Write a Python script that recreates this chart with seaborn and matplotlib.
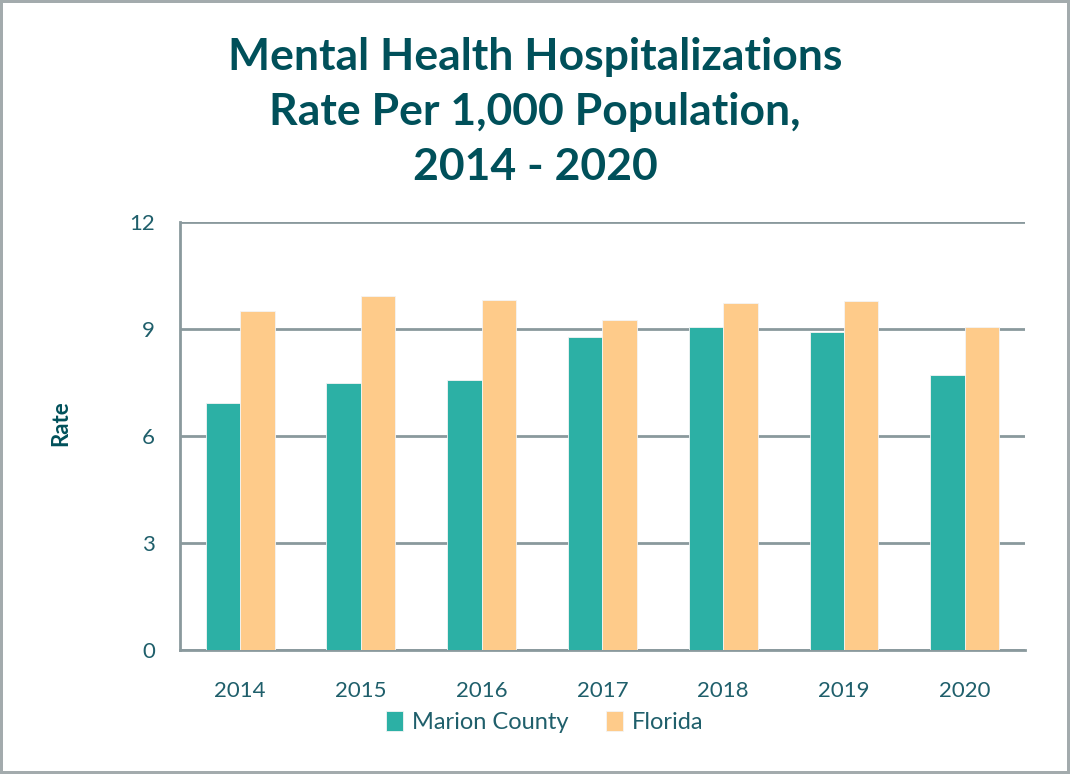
import pandas as pd
import matplotlib.pyplot as plt
import seaborn as sns

years = ["2014", "2015", "2016", "2017", "2018", "2019", "2020"]
marion = [6.93, 7.48, 7.58, 8.77, 9.05, 8.91, 7.72]
florida = [9.52, 9.92, 9.81, 9.27, 9.74, 9.80, 9.05]
series_names = ["Marion County", "Florida"]
y_ticks = [0, 3, 6, 9, 12]

title_color = "#00505a"
text_color = "#1f5f6b"
grid_color = "#8a999d"
colors = ["#2cb0a5", "#fecb8a"]


def main():
    # long form table for seaborn
    data = pd.DataFrame({
        "year": years * 2,
        "rate": marion + florida,
        "series": [series_names[0]] * len(years) + [series_names[1]] * len(years),
    })

    sns.set_style("white")
    plt.rcParams['font.family'] = ['Lato', 'DejaVu Sans']

    fig = plt.figure(figsize=(10.7, 7.74), dpi=100)
    fig.patch.set_edgecolor("#a3abad")
    fig.patch.set_linewidth(3)
    ax = fig.add_axes([0.168, 0.160, 0.790, 0.553])

    sns.barplot(data=data, x="year", y="rate", hue="series", palette=colors,
                saturation=1, width=0.57, edgecolor="#f4f4f4", linewidth=0.6,
                ax=ax, zorder=3)

    ax.set_ylim(0, 12)
    ax.set_yticks(y_ticks)
    ax.yaxis.grid(True, color=grid_color, linewidth=2, zorder=0)
    ax.set_axisbelow(True)
    for side in ["top", "right"]:
        ax.spines[side].set_visible(False)
    for side in ["left", "bottom"]:
        ax.spines[side].set_color(grid_color)
        ax.spines[side].set_linewidth(2)

    ax.tick_params(axis="both", length=0, labelsize=16, labelcolor=text_color)
    ax.tick_params(axis="x", pad=22)
    ax.tick_params(axis="y", pad=18)
    ax.set_xlabel("")
    ax.set_ylabel("Rate", fontsize=16, fontweight="bold", color=title_color)
    ax.yaxis.set_label_coords(-0.128, 0.53)

    # legend under the x labels, a bit left of centre like the original
    ax.legend(loc="upper center", bbox_to_anchor=(0.432, -0.093), ncol=2, frameon=False,
              fontsize=17, labelcolor=text_color, handlelength=0.7, handleheight=0.9,
              handletextpad=0.4, columnspacing=1.6)

    fig.text(0.5, 0.952, "Mental Health Hospitalizations\nRate Per 1,000 Population,\n2014 - 2020",
             ha="center", va="top", fontsize=32, fontweight="bold", color=title_color,
             linespacing=1.45)

    fig.savefig("out.png", dpi=100)


if __name__ == "__main__":
    main()
